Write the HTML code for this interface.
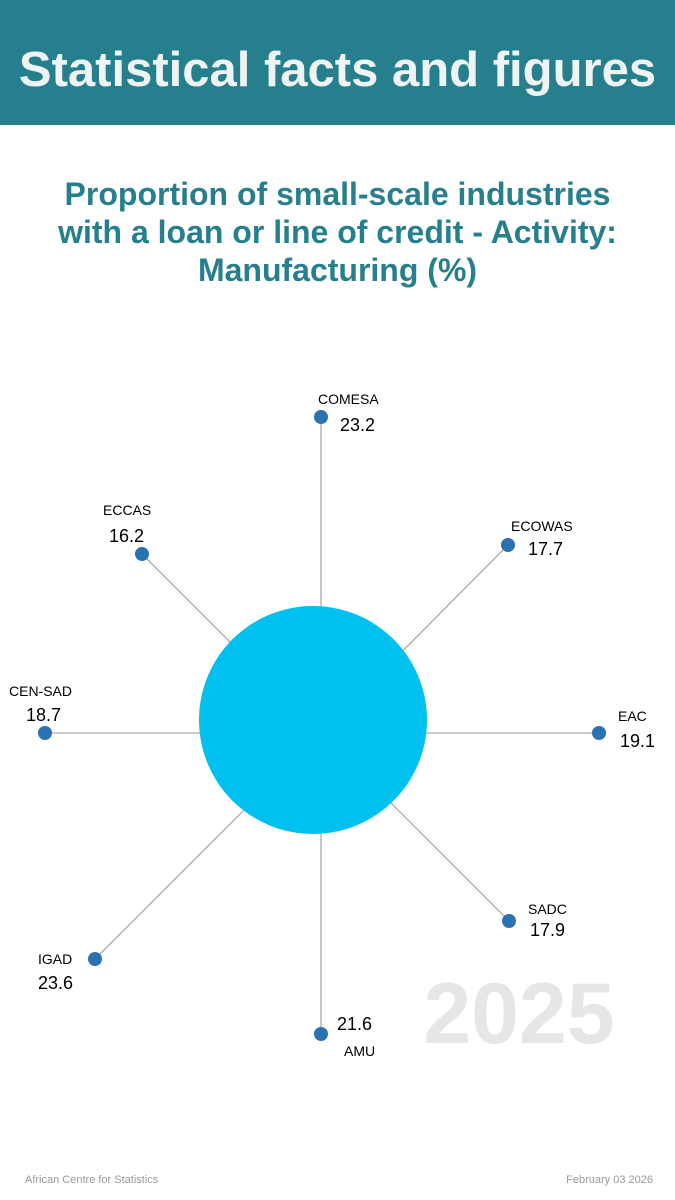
<!DOCTYPE html>
<html><head><meta charset="utf-8"><style>
html,body{margin:0;padding:0;background:#fff;}
body{width:675px;height:1200px;position:relative;overflow:hidden;font-family:"Liberation Sans",sans-serif;}
.hdr{position:absolute;left:0;top:0;width:675px;height:125px;background:#267f8c;}
.hdr div{position:absolute;left:0;width:675px;top:40px;text-align:center;color:#eef3f3;font-weight:bold;font-size:49px;line-height:60px;}
.sub{position:absolute;left:0;width:675px;top:175px;text-align:center;color:#267f8c;font-weight:bold;font-size:32px;line-height:38px;}
.foot{position:absolute;top:1174px;font-size:11px;color:#999;}
</style></head><body>
<div class="hdr"><div>Statistical facts and figures</div></div>
<div class="sub">Proportion of small-scale industries<br>with a loan or line of credit - Activity:<br>Manufacturing (%)</div>
<svg width="675" height="1200" style="position:absolute;left:0;top:0" font-family="Liberation Sans, sans-serif">
<g stroke="#aaa" stroke-width="1.3">
<line x1="321" y1="733" x2="321" y2="417"/>
<line x1="321" y1="733" x2="508" y2="545"/>
<line x1="321" y1="733" x2="599" y2="733"/>
<line x1="321" y1="733" x2="509" y2="921"/>
<line x1="321" y1="733" x2="321" y2="1034"/>
<line x1="321" y1="733" x2="95" y2="959"/>
<line x1="321" y1="733" x2="45" y2="733"/>
<line x1="321" y1="733" x2="142" y2="554"/>
</g>
<circle cx="313" cy="720" r="114" fill="#00c0f0"/>
<g fill="#2a72b0">
<circle cx="321" cy="417" r="7"/><circle cx="508" cy="545" r="7"/><circle cx="599" cy="733" r="7"/>
<circle cx="509" cy="921" r="7"/><circle cx="321" cy="1034" r="7"/><circle cx="95" cy="959" r="7"/>
<circle cx="45" cy="733" r="7"/><circle cx="142" cy="554" r="7"/>
</g>
<text x="519" y="1043" text-anchor="middle" font-size="86" font-weight="bold" fill="#e6e6e6">2025</text>
<g font-size="14" fill="#000">
<text x="318" y="404">COMESA</text>
<text x="511" y="531">ECOWAS</text>
<text x="618" y="721">EAC</text>
<text x="528" y="914">SADC</text>
<text x="344" y="1056">AMU</text>
<text x="38" y="964">IGAD</text>
<text x="9" y="696">CEN-SAD</text>
<text x="103" y="515">ECCAS</text>
</g>
<g font-size="18" fill="#000">
<text x="340" y="431">23.2</text>
<text x="528" y="555">17.7</text>
<text x="620" y="747">19.1</text>
<text x="530" y="936">17.9</text>
<text x="337" y="1030">21.6</text>
<text x="38" y="989">23.6</text>
<text x="26" y="721">18.7</text>
<text x="109" y="542">16.2</text>
</g>
</svg>
<div class="foot" style="left:25px">African Centre for Statistics</div>
<div class="foot" style="right:22px">February 03 2026</div>
</body></html>
